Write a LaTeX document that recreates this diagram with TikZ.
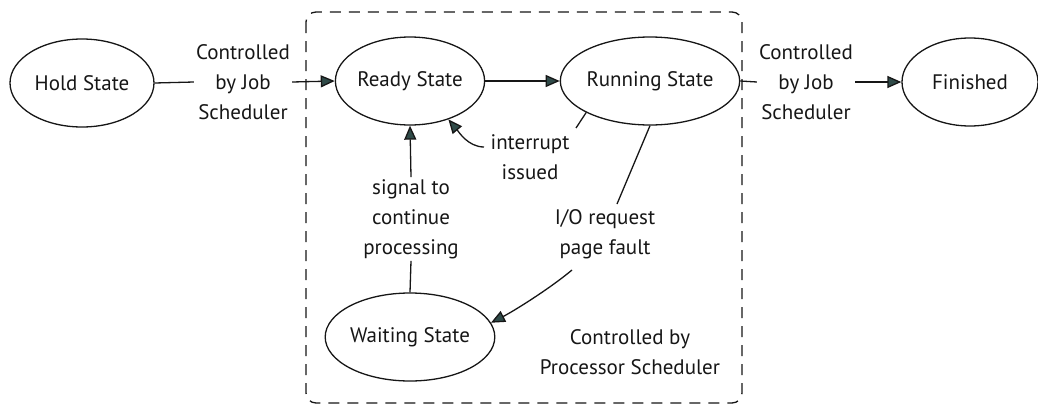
\documentclass[tikz,border=0pt]{standalone}
\usepackage{fontspec}
\setmainfont{PT Sans}
\usetikzlibrary{shapes.geometric,arrows.meta}
\definecolor{ink}{HTML}{161616}
\definecolor{tipfill}{HTML}{2F4A48}
\begin{document}
\begin{tikzpicture}[x=1pt,y=-1pt,
  state/.style={ellipse, draw=ink, line width=1.3pt, minimum width=144pt,
    minimum height=88pt, inner sep=0pt, text=ink,
    font=\fontsize{21}{24}\selectfont},
  lbl/.style={align=center, text=ink, inner sep=2pt,
    font=\fontsize{21}{30}\selectfont},
  conn/.style={draw=ink, line width=1.3pt},
  arr/.style={conn, -{Triangle[length=14pt,width=12pt,fill=tipfill,color=ink]}},
  region/.style={draw=ink, line width=1.3pt, dash pattern=on 11pt off 8pt,
    rounded corners=10pt},
]
\useasboundingbox (0,0) rectangle (1038,407);

% processor-scheduler region
\draw[region] (306,12) rectangle (742,403);

% states
\node[state] (hold)     at (82,83)   {Hold State};
\node[state] (ready)    at (410,81)  {Ready State};
\node[state] (running)  at (650,81)  {Running State};
\node[state, minimum width=136pt] (finished) at (970,82) {Finished};
\node[state] (waiting)  at (410,337) {Waiting State};

% labels
\node[lbl] (jobin)  at (243,82)  {Controlled\\by Job\\Scheduler};
\node[lbl] (jobout) at (806,82)  {Controlled\\by Job\\Scheduler};
\node[lbl] (intr)   at (530,157) {interrupt\\issued};
\node[lbl] (signal) at (411,219) {signal to\\continue\\processing};
\node[lbl] (io)     at (605,234) {I/O request\\page fault};
\node[lbl] (proc)   at (630,352) {Controlled by\\Processor Scheduler};

% free ends of the split connectors
\coordinate (intA) at (576,128);
\coordinate (intB) at (484,147);
\coordinate (ioA)  at (617,204);
\coordinate (ioB)  at (572,270);

% connectors
\draw[conn] (hold.east) -- (jobin.west);
\draw[arr]  (jobin.east) -- (ready.west);
\draw[arr]  (ready.east) -- (running.west);
\draw[conn] (running.east) -- (jobout.west);
\draw[arr]  (jobout.east) -- (finished.west);

\draw[conn] (running.south west) -- (intA);
\draw[arr]  (intB) .. controls +(-16,0) and +(10,12) .. (ready.-45);

\draw[conn] (waiting.north) -- (signal.south);
\draw[arr]  (signal.north) -- (ready.south);

\draw[conn] (running.south) -- (ioA);
\draw[arr]  (ioB) .. controls (548,290) and (512,312) .. (waiting.10);
\end{tikzpicture}
\end{document}
